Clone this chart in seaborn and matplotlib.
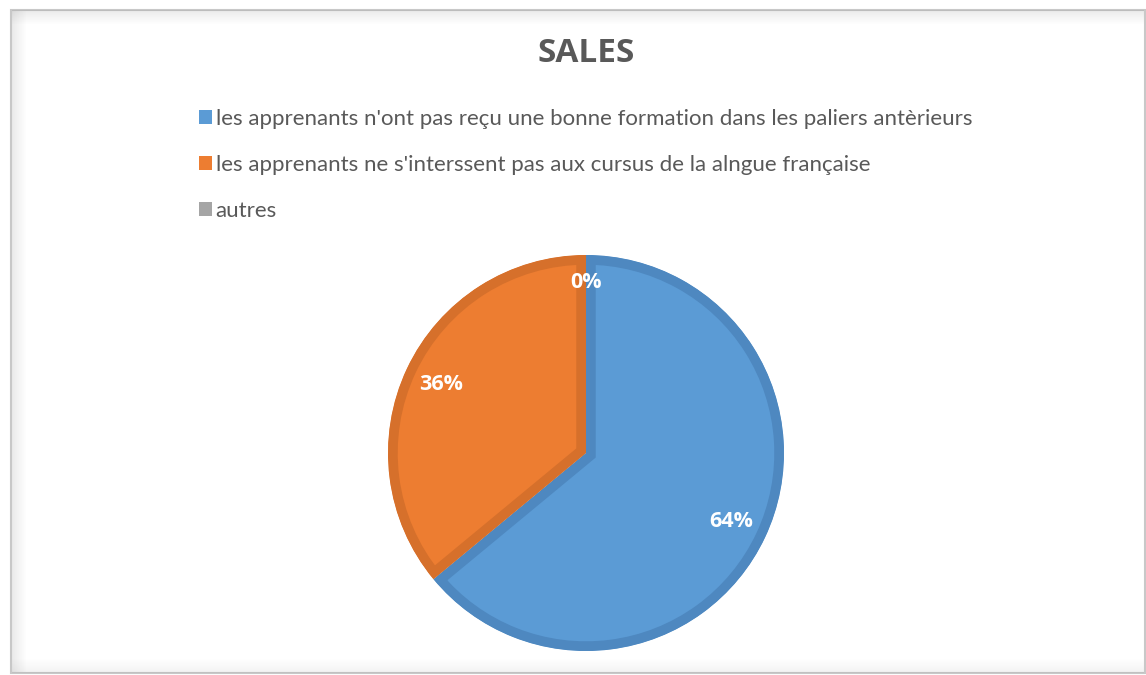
import matplotlib
matplotlib.use("Agg")
import matplotlib.pyplot as plt
from matplotlib.patches import Patch, Rectangle
import seaborn as sns

# Data
categories = [
    "les apprenants n'ont pas reçu une bonne formation dans les paliers antèrieurs",
    "les apprenants ne s'interssent pas aux cursus de la alngue française",
    "autres",
]
shares = [64, 36, 0]
fill_colors = ["#5B9BD5", "#ED7D31", "#A5A5A5"]
edge_colors = ["#4E88C0", "#D6702B", "#959595"]
chart_title = "SALES"

sns.set_theme(style="white")
plt.rcParams['font.family'] = ['Lato', 'DejaVu Sans']

W, H = 1146, 675
fig = plt.figure(figsize=(W / 100, H / 100), dpi=100)
fig.patch.set_facecolor("white")

# frame with a soft inner shadow, like the exported office chart
fig.add_artist(Rectangle((11 / W, 1 - 673 / H), 1134 / W, 663 / H, transform=fig.transFigure,
                         facecolor="none", edgecolor="#C8C8C8", lw=1.5))
for i in range(14):
    a = 0.16 * (1 - i / 14)
    fig.add_artist(Rectangle((12 / W, 1 - (11 + i) / H), 1132 / W, 1 / H, transform=fig.transFigure,
                             facecolor="#808080", edgecolor="none", alpha=a))
    fig.add_artist(Rectangle((12 / W + i / W, 1 - 672 / H), 1 / W, 661 / H, transform=fig.transFigure,
                             facecolor="#808080", edgecolor="none", alpha=a))
    fig.add_artist(Rectangle((12 / W, (2 + i) / H), 1132 / W, 1 / H, transform=fig.transFigure,
                             facecolor="#808080", edgecolor="none", alpha=a * 0.6))

# pie
cx, cy, r = 586, 453, 198
ax = fig.add_axes([(cx - r) / W, 1 - (cy + r) / H, 2 * r / W, 2 * r / H])
wedges, texts, autotexts = ax.pie(
    shares, colors=fill_colors, startangle=90, counterclock=False,
    autopct="%1.0f%%", pctdistance=0.81,
    wedgeprops=dict(linewidth=14),
    textprops=dict(color="white", fontsize=15.5, fontweight="bold",
                   family=["Open Sans", "DejaVu Sans"]),
)
for w, ec in zip(wedges, edge_colors):
    w.set_edgecolor(ec)
    w.set_clip_path(w)  # keep the border inside each slice
    w.set_clip_on(True)
autotexts[2].set_y(0.86)
ax.set_xlim(-1, 1)
ax.set_ylim(-1, 1)
ax.set_aspect("equal")
ax.axis("off")

fig.text(cx / W, 1 - 53 / H, chart_title, ha="center", va="center",
         fontsize=24, fontweight="bold", color="#595959",
         family=["Open Sans", "DejaVu Sans"])

handles = [Patch(facecolor=c, edgecolor="none") for c in fill_colors]
fig.legend(handles=handles, labels=categories, loc="upper left",
           bbox_to_anchor=(199 / W, 1 - 109 / H), frameon=False,
           fontsize=16, handlelength=0.6, handleheight=0.6, handletextpad=0.15,
           labelspacing=1.17, borderpad=0, borderaxespad=0, labelcolor="#595959")

fig.savefig("out.png", dpi=100)
